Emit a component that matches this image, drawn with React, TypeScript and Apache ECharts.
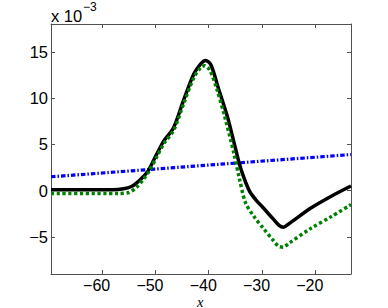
import React, { useEffect, useRef } from "react";
import * as echarts from "echarts";

const xTicks = [-60, -50, -40, -30, -20];
const yTicks = [-5, 0, 5, 10, 15];

const blackX = [-69.6, -58, -56, -54.5, -53.4, -52.3, -51.3, -49.8, -48.4, -46.6, -44.7, -42.8, -41.5, -40.6, -39.6, -38.1, -36.5, -35.3, -34.1, -33, -32.2, -31, -29.7, -28, -26.8, -26, -25, -20.9, -17, -13.3];
const blackY = [0.1, 0.1, 0.2, 0.45, 0.9, 1.5, 2.2, 3.9, 5.4, 6.8, 9.8, 12.6, 13.7, 14.05, 13.6, 10.9, 8.0, 5.3, 2.6, 0.8, -0.2, -1.1, -1.9, -3.0, -3.75, -3.95, -3.6, -1.9, -0.6, 0.5];

const greenX = [-69.6, -57, -55, -53.5, -52.3, -51.3, -49.8, -48.4, -46.6, -44.7, -42.8, -41.5, -40.8, -39.8, -38.5, -37, -35.3, -34.2, -33.1, -31.5, -29.7, -28, -26.9, -26, -25, -20.9, -17, -13.3];
const greenY = [-0.3, -0.3, -0.2, 0.4, 1.2, 2.0, 3.6, 5.1, 6.5, 9.4, 12.2, 13.3, 13.5, 13.0, 11.0, 8.0, 4.1, 1.2, -1.3, -2.8, -4.1, -5.3, -6.0, -6.1, -5.7, -4.1, -2.8, -1.5];

const blueX = [-69.6, -13.3];
const blueY = [1.5, 3.9];

const pairs = (xs: number[], ys: number[]) => xs.map((x, i) => [x, ys[i]]);

const axisColor = "#505050";
const tickFont = "Liberation Sans, Arial, Helvetica, sans-serif";

export default function App() {
  const ref = useRef<HTMLDivElement>(null);
  useEffect(() => {
    if (!ref.current) return;
    const chart = echarts.init(ref.current, undefined, { renderer: "svg" });
    const xBase = {
      type: "value" as const,
      min: -69.6,
      max: -13.3,
      splitLine: { show: false },
      axisLine: { show: true, onZero: false, lineStyle: { color: axisColor, width: 1 } },
      axisTick: { show: true, inside: true, length: 4, customValues: xTicks, lineStyle: { color: axisColor } },
    };
    const yBase = {
      type: "value" as const,
      min: -9,
      max: 18,
      splitLine: { show: false },
      axisLine: { show: true, onZero: false, lineStyle: { color: axisColor, width: 1 } },
      axisTick: { show: true, inside: true, length: 4, customValues: yTicks, lineStyle: { color: axisColor } },
    };
    chart.setOption({
      animation: false,
      backgroundColor: "#ffffff",
      grid: { left: 51, right: 37, top: 24, bottom: 34, containLabel: false },
      xAxis: [
        {
          ...xBase,
          position: "bottom",
          axisLabel: {
            show: true,
            customValues: xTicks,
            margin: 5,
            color: "#000",
            fontSize: 16,
            lineHeight: 12,
            fontFamily: tickFont,
            padding: [0, 11, 0, 0],
            formatter: (v: number) => String(v).replace("-", "\u2212"),
          },
        },
        { ...xBase, position: "top", axisLabel: { show: false } },
      ],
      yAxis: [
        {
          ...yBase,
          position: "left",
          axisLabel: {
            show: true,
            customValues: yTicks,
            margin: 3,
            color: "#000",
            fontSize: 16.5,
            fontFamily: tickFont,
            formatter: (v: number) => String(v).replace("-", "\u2212"),
          },
        },
        { ...yBase, position: "right", axisLabel: { show: false } },
      ],
      series: [
        {
          type: "line",
          data: pairs(blueX, blueY),
          showSymbol: false,
          lineStyle: { color: "#0000ff", width: 3.2, type: [4.5, 2, 1.5, 2], cap: "butt" },
          z: 2,
        },
        {
          type: "line",
          data: pairs(blackX, blackY),
          showSymbol: false,
          smooth: 0.3,
          lineStyle: { color: "#000000", width: 3.5 },
          z: 3,
        },
        {
          type: "line",
          data: pairs(greenX, greenY),
          showSymbol: false,
          smooth: 0.3,
          lineStyle: { color: "#008000", width: 3.5, type: [3.2, 2.6], cap: "butt" },
          z: 4,
        },
      ],
      graphic: [
        {
          type: "text",
          left: 51,
          top: 7,
          style: { text: "x 10", fontSize: 16.5, fontFamily: tickFont, fill: "#000" },
        },
        {
          type: "text",
          left: 83,
          top: 1,
          style: { text: "\u22123", fontSize: 12, fontFamily: tickFont, fill: "#000" },
        },
        {
          type: "text",
          left: 197,
          top: 294,
          style: { text: "x", fontSize: 14.5, fontStyle: "italic", fontFamily: "Liberation Serif, DejaVu Serif, serif", fill: "#000" },
        },
      ],
    });
    return () => chart.dispose();
  }, []);
  return <div ref={ref} style={{ position: "fixed", left: 0, top: 0, width: 388, height: 308 }} />;
}
